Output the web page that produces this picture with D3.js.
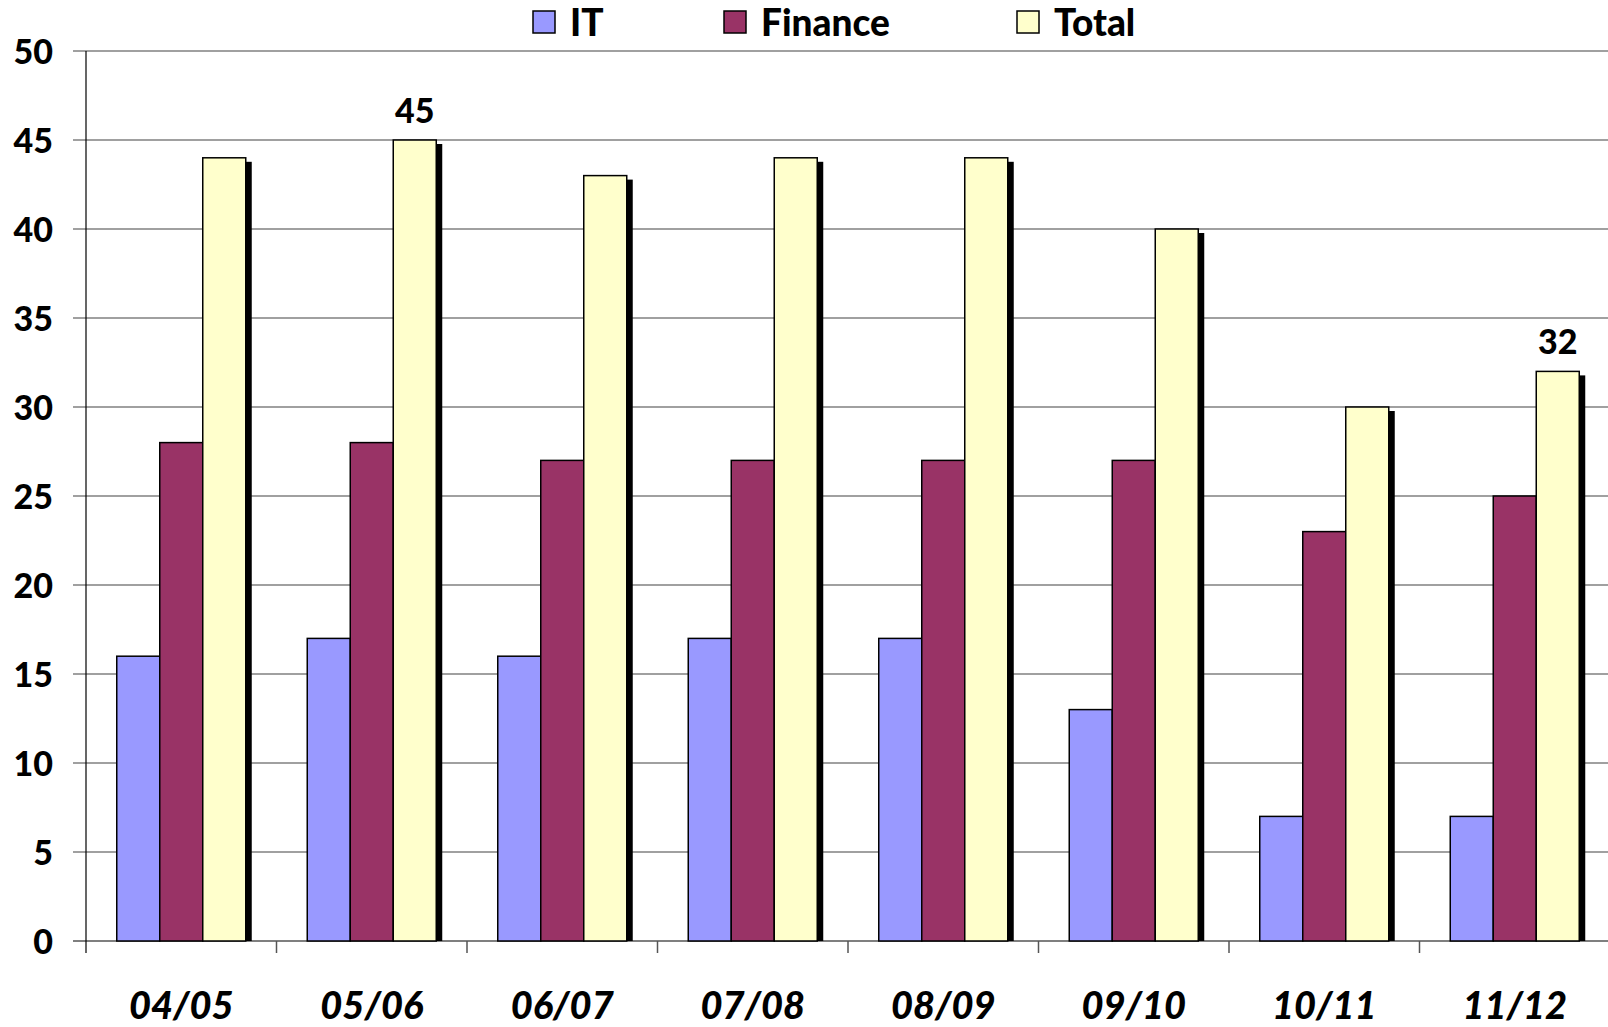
<!DOCTYPE html>
<html lang="en">
<head>
<meta charset="UTF-8">
<title>IT / Finance / Total</title>
<style>
  body { margin: 0; background: #fff; }
  svg { display: block; font-family: 'Lato', 'Open Sans', sans-serif; font-weight: 900; }
</style>
</head>
<body>
<div id="chart"></div>
<script src="https://d3js.org/d3.v7.min.js"></script>
<script>
const categories = ["04/05", "05/06", "06/07", "07/08", "08/09", "09/10", "10/11", "11/12"];
const seriesNames = ["IT", "Finance", "Total"];
const itValues = [16, 17, 16, 17, 17, 13, 7, 7];
const financeValues = [28, 28, 27, 27, 27, 27, 23, 25];
const totalValues = [44, 45, 43, 44, 44, 40, 30, 32];
const yTicks = [0, 5, 10, 15, 20, 25, 30, 35, 40, 45, 50];
const labelledTotals = ["05/06", "11/12"];   // only these carry a value label

const colors = ["#9999ff", "#993366", "#ffffcc"];
const W = 1608, H = 1027;
const plotLeft = 86, plotRight = 1610, plotTop = 51, plotBottom = 941;

const rows = categories.map((c, i) => ({cat: c, vals: [itValues[i], financeValues[i], totalValues[i]]}));

const svg = d3.select("#chart").append("svg")
    .attr("width", W).attr("height", H);

const y = d3.scaleLinear().domain([0, 50]).range([plotBottom, plotTop]);
const x0 = d3.scaleBand().domain(categories).range([plotLeft, plotRight]).padding(0);
const groupW = 129;
const x1 = d3.scaleBand().domain(seriesNames).range([0, groupW]).padding(0);
const groupOff = (x0.bandwidth() - groupW) / 2;

// gridlines
svg.append("g").selectAll("line")
    .data(yTicks)
    .enter().append("line")
    .attr("x1", plotLeft - 13).attr("x2", W)
    .attr("y1", d => y(d)).attr("y2", d => y(d))
    .attr("stroke", d => d === 0 ? "#555" : "#808080")
    .attr("stroke-width", 1.5);

// y axis line + labels
svg.append("line")
    .attr("x1", plotLeft).attr("x2", plotLeft)
    .attr("y1", plotTop).attr("y2", plotBottom + 12)
    .attr("stroke", "#000").attr("stroke-width", 1.2);

const yAxis = svg.append("g")
    .attr("transform", `translate(${plotLeft - 33},0)`)
    .call(d3.axisLeft(y).tickValues(yTicks).tickSize(0).tickPadding(0));
yAxis.select(".domain").remove();
yAxis.selectAll("text")
    .attr("font-family", "Lato, sans-serif")
    .attr("font-size", 34).attr("font-weight", 900).attr("fill", "#000")
    .attr("dy", "0.36em");

// category boundary ticks
svg.append("g").selectAll("line")
    .data(categories)
    .enter().append("line")
    .attr("x1", (d, i) => plotLeft + x0.step() * (i + 1))
    .attr("x2", (d, i) => plotLeft + x0.step() * (i + 1))
    .attr("y1", plotBottom).attr("y2", plotBottom + 12)
    .attr("stroke", "#555").attr("stroke-width", 1.5);

const xAxis = svg.append("g")
    .attr("transform", `translate(0,${plotBottom})`)
    .call(d3.axisBottom(x0).tickSize(0).tickPadding(0));
xAxis.select(".domain").remove();
xAxis.selectAll("text")
    .attr("font-family", "Lato, sans-serif")
    .attr("font-size", 38).attr("font-weight", 900).attr("font-style", "italic")
    .attr("fill", "#000")
    .attr("y", 78).attr("dy", 0);

// bars
const groups = svg.append("g").selectAll("g")
    .data(rows)
    .enter().append("g")
    .attr("transform", d => `translate(${x0(d.cat) + groupOff},0)`);

const barData = d => d.vals.map((v, k) => ({name: seriesNames[k], v: v, k: k, cat: d.cat}));

// shadows first
groups.selectAll("rect.shadow")
    .data(barData)
    .enter().append("rect")
    .attr("class", "shadow")
    .attr("x", d => x1(d.name) + 6)
    .attr("y", d => y(d.v) + 4)
    .attr("width", x1.bandwidth())
    .attr("height", d => plotBottom - y(d.v) - 4)
    .attr("fill", "#000");

groups.selectAll("rect.bar")
    .data(barData)
    .enter().append("rect")
    .attr("class", "bar")
    .attr("x", d => x1(d.name))
    .attr("y", d => y(d.v))
    .attr("width", x1.bandwidth())
    .attr("height", d => plotBottom - y(d.v))
    .attr("fill", d => colors[d.k])
    .attr("stroke", "#000").attr("stroke-width", 1.5);

// value labels
groups.filter(d => labelledTotals.includes(d.cat))
    .append("text")
    .attr("x", x1("Total") + x1.bandwidth() / 2)
    .attr("y", d => y(d.vals[2]) - 17)
    .attr("text-anchor", "middle")
    .attr("font-size", 34).attr("fill", "#000")
    .text(d => d.vals[2]);

// legend
const legendX = [533, 724, 1017];
const legend = svg.append("g").selectAll("g")
    .data(seriesNames)
    .enter().append("g")
    .attr("transform", (d, i) => `translate(${legendX[i]},11)`);
legend.append("rect")
    .attr("width", 22).attr("height", 22)
    .attr("fill", (d, i) => colors[i])
    .attr("stroke", "#000").attr("stroke-width", 1.5);
legend.append("text")
    .attr("x", 37).attr("y", 25)
    .attr("font-size", 37).attr("fill", "#000")
    .text(d => d);
</script>
</body>
</html>
